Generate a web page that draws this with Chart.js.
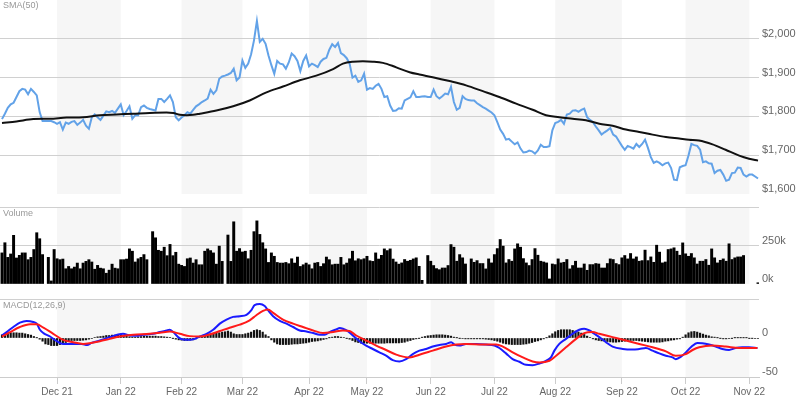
<!DOCTYPE html>
<html><head><meta charset="utf-8">
<script src="https://cdn.jsdelivr.net/npm/chart.js@4/dist/chart.umd.min.js"></script>
<style>
html,body{margin:0;padding:0;background:#fff;width:800px;height:399px;overflow:hidden;position:relative;}
canvas{position:absolute;left:0;display:block;}
.lbl{position:absolute;left:3px;font:9px "Liberation Sans",Arial,sans-serif;color:#999;white-space:nowrap;line-height:10px;}
</style></head><body>
<canvas id="c1" width="800" height="194" style="top:0"></canvas>
<canvas id="c2" width="800" height="77" style="top:207px"></canvas>
<canvas id="c3" width="800" height="100" style="top:299px"></canvas>
<div class="lbl" style="top:0px">SMA(50)</div>
<div class="lbl" style="top:208px">Volume</div>
<div class="lbl" style="top:300px">MACD(12,26,9)</div>
<script>
// ---------- data ----------
const monthLabels = ['Dec 21','Jan 22','Feb 22','Mar 22','Apr 22','May 22','Jun 22','Jul 22','Aug 22','Sep 22','Oct 22','Nov 22'];
const monthIdx = [19,41,62,83,106,126,148,170,191,214,236,258];

const price = [
1793,1807,1822,1831,1835,1850,1865,1871,1869,1857,
1871,1863,1854,1811,1788,1788,1788,1788,1785,1781,
1785,1766,1784,1781,1786,1788,1778,1784,1791,1776,
1768,1798,1805,1798,1791,1802,1813,1811,1814,1809,
1820,1831,1803,1814,1826,1794,1803,1803,1824,1828,
1822,1819,1817,1815,1845,1845,1837,1845,1854,1837,
1798,1790,1797,1803,1811,1807,1817,1826,1831,1837,
1841,1846,1869,1858,1867,1897,1903,1905,1908,1912,
1923,1893,1900,1944,1925,1936,1960,1996,2046,1992,
2000,1987,1957,1932,1910,1943,1936,1934,1923,1939,
1962,1955,1943,1917,1943,1957,1929,1936,1932,1927,
1941,1948,1951,1972,1986,1979,1989,1963,1958,1950,
1936,1900,1905,1889,1893,1910,1869,1873,1871,1879,
1884,1871,1850,1852,1828,1814,1815,1821,1820,1841,
1845,1849,1865,1850,1850,1851,1852,1850,1850,1869,
1852,1846,1852,1859,1857,1876,1837,1817,1822,1852,
1845,1842,1841,1841,1834,1829,1824,1820,1815,1810,
1803,1785,1766,1755,1740,1742,1735,1728,1733,1717,
1707,1708,1712,1710,1704,1712,1727,1721,1721,1723,
1764,1783,1786,1791,1781,1805,1807,1815,1816,1812,
1817,1820,1798,1791,1785,1774,1764,1753,1759,1764,
1770,1753,1748,1736,1724,1714,1724,1721,1717,1729,
1721,1729,1740,1719,1695,1680,1684,1680,1674,1679,
1681,1667,1637,1636,1669,1672,1674,1699,1729,1726,
1724,1714,1682,1684,1679,1678,1654,1660,1662,1650,
1634,1637,1654,1655,1668,1667,1650,1645,1650,1650,
1645,1640];

const smaIdx = [0,5.0,10.8,16.5,22.3,28.0,33.8,39.5,45.3,51.0,56.8,59.1,61.4,63.7,66.0,68.3,74.0,79.8,85.5,91.3,97.0,102.8,108.5,114.3,117.7,121.1,124.6,128.0,131.5,134.9,137.2,140.7,144.1,148.7,154.5,160.2,166.0,171.7,177.5,183.2,187.8,192.4,197.0,201.6,206.2,210.8,215.4,220.0,224.6,229.2,233.8,237.2,240.6,245.3,249.8,254.5,257.9,261.0];
const smaVal = [1783,1787,1793,1794,1797,1798,1803,1805,1807,1809,1810,1809,1804,1803,1804,1807,1815,1826,1841,1862,1877,1893,1905,1922,1936,1941,1942,1941,1938,1930,1923,1914,1908,1901,1891,1880,1865,1850,1833,1817,1803,1798,1794,1790,1781,1776,1766,1760,1753,1747,1743,1740,1738,1728,1714,1699,1691,1686];

// volume in thousands (null = no bar)
const volume = [
202,268,173,195,316,169,186,202,202,158,
173,224,333,294,191,null,173,20,224,164,
158,162,99,114,99,110,136,99,136,147,
158,143,96,121,103,99,70,90,129,103,
99,158,158,162,228,213,143,164,173,191,
158,null,340,300,219,213,239,184,257,184,
206,129,121,114,164,169,136,158,125,125,
213,228,217,202,129,246,147,null,318,147,
404,213,230,208,213,164,219,340,410,322,
268,228,140,202,180,140,136,136,140,132,
164,136,175,114,125,136,125,99,136,140,
114,132,175,158,125,129,129,173,125,136,
164,213,151,164,158,164,180,151,147,202,
162,186,228,217,228,162,143,129,137,159,
148,154,163,170,115,24,null,185,148,120,
100,93,104,104,120,256,239,148,191,170,
130,null,163,141,152,133,133,98,163,137,
191,230,289,246,137,159,148,228,261,239,
165,137,120,159,230,187,148,143,137,33,
130,126,163,137,141,159,98,120,148,104,
104,130,89,126,126,133,130,104,104,133,
163,159,133,126,170,185,163,198,163,176,
148,152,220,152,176,141,252,207,137,143,
224,228,235,213,187,267,196,180,198,170,
130,148,148,159,122,228,170,137,154,163,
148,261,159,170,176,176,185,null,null,null,
null,8];

const hist = [
4.1,5.4,6.3,6.7,6.7,6.7,6.3,6.3,5.4,4.5,
3.7,1.9,0.2,-1.5,-4.1,-7.6,-8.4,-9.7,-9.7,-9.7,
-8.4,-7.6,-5.8,-4.1,-3.2,-3.2,-3.2,-3.2,-2.8,-2.4,
-1.5,-0.6,0.6,1.5,1.9,2.4,3.2,3.2,3.7,3.7,
4.1,4.5,3.7,2.4,1.5,1.1,1.1,1.5,1.9,2.4,
2.4,2.4,2.4,2.4,1.9,1.9,1.5,1.1,0.6,-0.2,
-1.5,-2.4,-2.8,-3.2,-3.2,-2.8,-2.4,-1.1,0.6,1.9,
3.2,4.5,5.4,5.8,6.3,6.7,7.6,8.0,8.9,7.6,
5.4,4.5,4.5,4.5,5.4,6.3,7.6,9.7,10.6,9.7,
7.6,4.1,1.9,-2.4,-5.4,-7.6,-8.4,-8.4,-8.4,-8.4,
-8.0,-7.6,-7.6,-7.1,-6.7,-6.3,-5.4,-4.5,-4.1,-3.7,
-2.8,-1.9,-1.1,0.2,1.1,1.9,1.9,1.1,0.6,-0.2,
-1.5,-3.2,-5.0,-5.8,-6.7,-6.7,-6.7,-6.7,-6.7,-6.7,
-6.7,-6.7,-6.7,-6.3,-6.3,-6.3,-6.3,-6.3,-5.8,-5.4,
-4.1,-3.2,-1.9,-1.1,-0.2,1.1,1.9,2.8,3.2,3.7,
4.1,4.1,4.1,3.7,3.2,2.4,1.1,0.2,-0.2,-0.6,
-1.1,-1.1,-1.1,-1.1,-1.1,-1.1,-1.1,-1.5,-1.9,-2.4,
-3.2,-4.1,-5.4,-6.7,-7.6,-8.0,-8.4,-8.4,-8.4,-8.4,
-8.0,-7.6,-6.7,-5.8,-4.5,-3.7,-2.4,-1.1,0.2,2.8,
5.4,8.0,9.7,10.6,10.6,10.6,10.6,9.7,8.9,7.6,
6.3,4.5,2.4,0.6,-1.1,-2.4,-3.2,-3.7,-4.1,-4.5,
-5.0,-5.4,-5.4,-5.0,-4.5,-4.1,-3.7,-3.2,-3.2,-3.2,
-3.7,-4.1,-4.5,-5.0,-5.4,-5.4,-5.4,-5.4,-5.0,-4.1,
-3.7,-2.8,-2.4,-1.5,-1.1,1.1,4.1,6.7,8.0,8.4,
7.6,6.3,5.0,3.7,2.8,1.5,1.1,0.2,-0.2,-1.1,
-1.1,-0.6,-0.2,0.2,0.2,0.2,0.2,0.2,-0.2,-0.2,
-0.6,-0.6];

const macdIdx = [0,1.6,3.9,6.2,8.5,10.8,12,13.1,14.3,16.6,18.9,21.1,24.6,27.5,29.4,30.9,33.8,37.2,40.1,41.8,44.1,46.4,48.7,52.2,54.5,56.8,57.9,59.1,60.8,62.5,64.8,66.6,68.3,70.6,72.9,75.2,77.5,79.8,82.1,84.4,86.1,87.2,89,90.7,91.8,93.6,95.9,98.2,100.5,102.8,105.1,107.4,109.7,111.4,113.1,115.4,116.6,117.7,119.4,121.1,123.4,125.7,128,130.3,132.6,134.9,137.2,139.5,141.8,144.1,146.4,148.7,151,153.3,155.1,156.2,157.9,160.2,163.7,167.1,170,171.7,174,176.3,178.6,180.9,183.2,185.5,187.8,189.5,190.7,192.4,194.7,197,199.3,201,202.8,204.5,206.2,208.5,210.8,214.3,217.7,220,222.3,224.6,226.9,229.2,231.5,232.6,234.4,236.1,237.8,240.1,241.8,244.1,246.4,248.7,251,253.3,255.6,257.9,260.8];
const macdVal = [3.2,7.6,14.1,19.7,21.9,20.6,18.4,10.6,6.3,1.9,-4.1,-7.6,-7.6,-7.6,-8.9,-6.3,-3.2,1.1,4.5,5.4,3.2,2.8,4.1,5.4,7.6,9.7,10.6,7.6,1.1,-1.9,-2.4,-1.1,1.9,5.4,10.6,18.4,23.6,27.1,27.9,29.7,35.7,42.2,43.5,40.9,35.7,27.9,21.9,18.4,14.1,9.7,8.4,6.3,4.1,4.1,7.6,11.0,12.8,11.9,8.9,3.2,-4.1,-9.7,-14.1,-18.4,-22.7,-28.4,-30.1,-27.1,-20.6,-16.2,-14.1,-11.0,-8.9,-7.6,-5.4,-8.4,-9.7,-7.6,-7.6,-8.4,-9.7,-12.8,-19.7,-27.1,-30.5,-34.4,-34.8,-32.7,-29.2,-24.9,-16.2,-7.6,-1.1,5.4,10.6,11.9,9.7,5.4,1.1,-5.4,-11.0,-14.1,-14.9,-14.1,-12.8,-16.2,-19.7,-22.7,-24.9,-27.1,-24.0,-18.4,-11.9,-6.3,-6.7,-8.4,-11.0,-14.1,-15.4,-12.8,-11.9,-11.9,-12.8];

const sigIdx = [0,2.8,6.2,9.7,12,14.3,17.7,21.1,24.6,28,30.3,33.8,37.2,40.7,45.3,51,54.5,57.9,61.4,64.8,68.3,71.7,75.2,78.6,82.1,85.5,87.8,90.1,91.8,93.6,97,100.5,103.9,107.4,110.8,114.3,117.7,120,122.3,125.7,129.2,132.6,136.1,137.2,140.7,144.1,148.7,153.3,156.8,160.2,166,170.6,172.9,176.3,179.8,183.2,185.5,189,191.3,194.7,198.2,201,203.9,206.2,210.8,215.4,220,224.6,229.2,232.6,236.1,238.4,240.7,245.3,249.9,254.5,260.8];
const sigVal = [1.9,7.6,14.1,17.5,17.5,13.2,5.4,-2.4,-5.4,-7.6,-6.7,-4.1,-1.1,1.9,4.1,5.4,6.7,8.4,5.4,2.4,1.9,4.5,8.9,13.2,17.1,22.7,29.2,34.8,36.6,32.3,23.6,18.4,14.1,9.7,6.3,7.6,9.7,8.9,3.2,-3.2,-9.7,-15.4,-21.4,-22.7,-24.9,-21.4,-16.2,-11.0,-8.4,-7.6,-8.4,-8.4,-11.0,-18.4,-24.9,-30.1,-31.4,-29.2,-22.7,-11.9,-1.1,6.3,7.6,5.4,1.1,-3.2,-7.6,-11.9,-17.1,-22.7,-20.6,-15.4,-11.9,-9.7,-11.0,-12.8,-12.8];

const priceTicks = [1600,1700,1800,1900,2000,2100];
const volTicks = [0,250,500];
const macdTicks = [-50,0,50];

// ---------- setup ----------
const FONT = '"Liberation Sans", Arial, sans-serif';
const XMIN = -0.69, XMAX = 261.34;
const GRID = '#d0d0d0';
const BAND = '#f6f6f6';

const bandsPlugin = {
  id: 'bands',
  beforeDraw(chart) {
    const {ctx, chartArea: a, scales: {x}} = chart;
    ctx.save();
    ctx.fillStyle = BAND;
    for (let k = 0; k + 1 < monthIdx.length; k += 2) {
      const x1 = x.getPixelForValue(monthIdx[k]);
      const x2 = x.getPixelForValue(monthIdx[k + 1]);
      ctx.fillRect(x1, a.top, x2 - x1, a.bottom - a.top);
    }
    ctx.restore();
  }
};

function yAxis(min, max, ticks, fmt, gridColor) {
  return {
    position: 'right', min, max,
    afterBuildTicks: s => { s.ticks = ticks.map(v => ({value: v})); },
    afterFit: s => { s.width = 41; s.paddingTop = 0; s.paddingBottom = 0; },
    grid: {drawTicks: false, color: gridColor || GRID, lineWidth: 1},
    border: {display: false},
    ticks: {padding: 3, labelOffset: -5, color: '#666', autoSkip: false,
            font: {size: 11, family: FONT}, callback: fmt}
  };
}
const hiddenX = {type: 'linear', display: false, min: XMIN, max: XMAX, offset: false};
const base = {responsive: false, animation: false, events: [],
  layout: {padding: 0},
  plugins: {legend: {display: false}, tooltip: {enabled: false}}};

// price panel
new Chart(document.getElementById('c1'), {
  type: 'line',
  data: {datasets: [
    {data: smaIdx.map((v, i) => ({x: v, y: smaVal[i]})), borderColor: '#111', borderWidth: 2,
     pointRadius: 0, tension: 0.4, cubicInterpolationMode: 'monotone'},
    {data: price.map((v, i) => ({x: i, y: v})), borderColor: '#62a2e8', borderWidth: 2,
     pointRadius: 0, tension: 0}
  ]},
  options: Object.assign({}, base, {
    scales: {
      x: hiddenX,
      y: yAxis(1600, 2100, priceTicks, v => v === 2100 ? null : '$' + v.toLocaleString('en-US'))
    }
  }),
  plugins: [bandsPlugin]
});

// volume panel
new Chart(document.getElementById('c2'), {
  type: 'bar',
  data: {datasets: [
    {data: volume.map((v, i) => ({x: i, y: v})), backgroundColor: '#000', barThickness: 2.3, borderWidth: 0}
  ]},
  options: Object.assign({}, base, {
    scales: {
      x: hiddenX,
      y: yAxis(0, 500, volTicks, v => v === 500 ? '' : v + 'k')
    }
  }),
  plugins: [bandsPlugin]
});

// MACD panel
new Chart(document.getElementById('c3'), {
  type: 'bar',
  data: {datasets: [
    {type: 'line', data: sigIdx.map((v, i) => ({x: v, y: sigVal[i]})), borderColor: '#ff1a1a', borderWidth: 2,
     pointRadius: 0, cubicInterpolationMode: 'monotone'},
    {type: 'line', data: macdIdx.map((v, i) => ({x: v, y: macdVal[i]})), borderColor: '#1a1aff', borderWidth: 2,
     pointRadius: 0, cubicInterpolationMode: 'monotone'},
    {type: 'bar', data: hist.map((v, i) => ({x: i, y: v})), backgroundColor: '#111', barThickness: 1.5, borderWidth: 0}
  ]},
  options: Object.assign({}, base, {
    scales: {
      x: {
        type: 'linear', min: XMIN, max: XMAX, offset: false,
        afterBuildTicks: s => { s.ticks = monthIdx.map(v => ({value: v})); },
        afterFit: s => { s.height = 22; s.paddingLeft = 0; s.paddingRight = 0; },
        grid: {drawOnChartArea: false, drawTicks: true, tickLength: 7, color: '#ccc', offset: false},
        border: {display: true, color: '#ccc'},
        ticks: {autoSkip: false, maxRotation: 0, padding: 2, color: '#666',
                font: {size: 10, family: FONT},
                callback: (v, i) => monthLabels[i]}
      },
      y: yAxis(-50, 50, macdTicks, v => v === 50 ? '' : String(v),
               ctx => (ctx.tick && ctx.tick.value === 0) ? 'rgba(0,0,0,0)' : GRID)
    }
  }),
  plugins: [bandsPlugin]
});
</script>
</body></html>
